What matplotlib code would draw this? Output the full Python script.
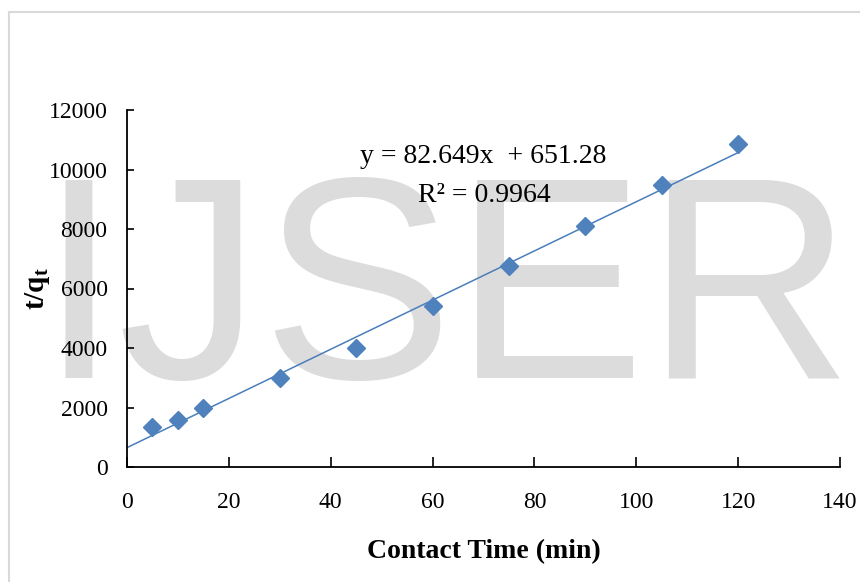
import matplotlib
matplotlib.use("Agg")
import matplotlib.pyplot as plt
from matplotlib.lines import Line2D
import numpy as np

# Data
contact_time = [5, 10, 15, 30, 45, 60, 75, 90, 105, 120]
t_over_qt = [1350, 1580, 1990, 3000, 4000, 5410, 6760, 8100, 9480, 10860]
slope = 82.649
intercept = 651.28
r_squared = 0.9964
x_ticks = [0, 20, 40, 60, 80, 100, 120, 140]
y_ticks = [0, 2000, 4000, 6000, 8000, 10000, 12000]

plt.rcParams['mathtext.fontset'] = 'custom'
plt.rcParams['mathtext.rm'] = 'Liberation Serif'
plt.rcParams['mathtext.it'] = 'Liberation Serif:italic'
plt.rcParams['mathtext.bf'] = 'Liberation Serif:bold'

W, H = 860, 582
fig = plt.figure(figsize=(W / 100, H / 100), dpi=100)
fig.patch.set_facecolor('white')

def fx(px):
    return px / W

def fy(py):
    return 1 - py / H

# light frame
fig.add_artist(Line2D([fx(9), 1.0], [fy(12), fy(12)], color='#d9d9d9', lw=1.5))
fig.add_artist(Line2D([fx(9), fx(9)], [0, fy(12)], color='#d9d9d9', lw=1.5))

# watermark
fig.text(fx(446), fy(378), 'IJSER', fontsize=207, family='Liberation Sans',
         color='#dcdcdc', ha='center', va='baseline', zorder=-1)

ax = fig.add_axes([fx(127), fy(467), fx(840) - fx(127), fy(110) - fy(467)])
ax.set_facecolor('none')

xs = np.array([0, contact_time[-1]])
ax.plot(xs, slope * xs + intercept, color='#4a7ebb', lw=1.1, zorder=2)
ax.plot(contact_time, t_over_qt, linestyle='none', marker='D', markersize=9,
        color='#4f81bd', zorder=3)

ax.set_xlim(0, 140)
ax.set_ylim(0, 12000)
ax.set_xticks(x_ticks)
ax.set_yticks(y_ticks)
ax.set_xticklabels([str(v) for v in x_ticks], family='Liberation Serif', fontsize=17)
ax.set_yticklabels([str(v) for v in y_ticks], family='Liberation Serif', fontsize=17)
for s in ['top', 'right']:
    ax.spines[s].set_visible(False)
for s in ['left', 'bottom']:
    ax.spines[s].set_linewidth(1.3)
ax.tick_params(axis='x', direction='in', length=7, width=1.2, pad=18)
ax.tick_params(axis='y', direction='in', length=5, width=1.2, pad=14)

ax.set_xlabel('Contact Time (min)', family='Liberation Serif', fontweight='bold',
              fontsize=20, labelpad=19)
ax.set_ylabel(r'$\mathbf{t/q_t}$', fontsize=21)
ax.yaxis.set_label_coords(-0.105, 0.5)

fig.text(fx(483), fy(163), 'y = 82.649x  + 651.28', family='Liberation Serif',
         fontsize=20, ha='center', va='baseline')
fig.text(fx(484), fy(202), 'R² = 0.9964', family='Liberation Serif',
         fontsize=20, ha='center', va='baseline')

fig.savefig('out.png', dpi=100)
